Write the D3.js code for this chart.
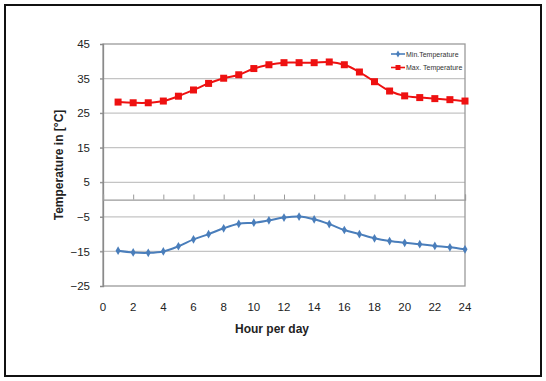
<!DOCTYPE html>
<html>
<head>
<meta charset="utf-8">
<script src="https://cdn.jsdelivr.net/npm/d3@7/dist/d3.min.js"></script>
<style>
  html, body { margin: 0; padding: 0; background: #fff; }
  svg { display: block; }
</style>
</head>
<body>
<svg id="chart" width="546" height="381"></svg>
<script>
// Hourly temperatures over one day
const hours = [1,2,3,4,5,6,7,8,9,10,11,12,13,14,15,16,17,18,19,20,21,22,23,24];
const maxTemp = [28.2,28.0,28.0,28.5,29.9,31.7,33.6,35.1,36.1,37.9,39.0,39.6,39.6,39.6,39.8,39.0,36.9,34.1,31.4,30.0,29.5,29.2,28.9,28.5];
const minTemp = [-14.8,-15.3,-15.4,-15.0,-13.5,-11.5,-10.0,-8.3,-7.0,-6.7,-6.0,-5.2,-4.9,-5.7,-7.1,-8.8,-10.0,-11.2,-12.0,-12.5,-12.9,-13.4,-13.8,-14.4];
const yTicks = [45,35,25,15,5,-5,-15,-25];
const xTicks = [0,2,4,6,8,10,12,14,16,18,20,22,24];
const seriesNames = ["Min.Temperature", "Max. Temperature"];

const svg = d3.select("#chart");
const W = 546, H = 381;
const plot = { left: 103, right: 465, top: 44, bottom: 286 };

// outer frame
svg.append("rect")
  .attr("x", 5).attr("y", 5).attr("width", W - 10).attr("height", H - 10)
  .attr("fill", "none").attr("stroke", "#111").attr("stroke-width", 2);

const x = d3.scaleLinear().domain([0, 24]).range([plot.left, plot.right]);
const y = d3.scaleLinear().domain([-25, 45]).range([plot.bottom, plot.top]);

const font = "'Liberation Sans', Arial, sans-serif";

// horizontal gridlines
svg.append("g").selectAll("line")
  .data(yTicks.filter(v => v !== 45 && v !== -25))
  .join("line")
  .attr("x1", plot.left - 3).attr("x2", plot.right)
  .attr("y1", d => y(d)).attr("y2", d => y(d))
  .attr("stroke", "#c4c4c4").attr("stroke-width", 1.3);

// plot border
svg.append("rect")
  .attr("x", plot.left).attr("y", plot.top)
  .attr("width", plot.right - plot.left).attr("height", plot.bottom - plot.top)
  .attr("fill", "none").attr("stroke", "#9a9a9a").attr("stroke-width", 1.3);

// y axis
const yAxis = d3.axisLeft(y).tickValues(yTicks).tickSize(3).tickPadding(10);
const gy = svg.append("g").attr("transform", `translate(${plot.left},0)`).call(yAxis);
gy.select(".domain").attr("stroke", "#8a8a8a").attr("stroke-width", 1.3);
gy.selectAll(".tick line").attr("stroke", "#8a8a8a");
gy.selectAll("text").attr("font-family", font).attr("font-size", 11.5).attr("fill", "#222");

// x axis drawn along the zero line, labels placed below the plot
const xAxis = d3.axisTop(x).tickValues(xTicks).tickSize(5).tickFormat("");
const gx = svg.append("g").attr("transform", `translate(0,${y(0)})`).call(xAxis);
gx.select(".domain").attr("stroke", "#9a9a9a").attr("stroke-width", 1.3);
gx.selectAll(".tick line").attr("stroke", "#9a9a9a");

svg.append("g").selectAll("text")
  .data(xTicks)
  .join("text")
  .attr("x", d => x(d)).attr("y", 311)
  .attr("text-anchor", "middle")
  .attr("font-family", font).attr("font-size", 11.5).attr("fill", "#222")
  .text(d => d);

// axis titles
svg.append("text")
  .attr("transform", `translate(63,165) rotate(-90)`)
  .attr("text-anchor", "middle")
  .attr("font-family", font).attr("font-size", 12).attr("font-weight", "bold").attr("fill", "#222")
  .text("Temperature in [°C]");

svg.append("text")
  .attr("x", 272).attr("y", 333)
  .attr("text-anchor", "middle")
  .attr("font-family", font).attr("font-size", 12).attr("font-weight", "bold").attr("fill", "#222")
  .text("Hour per day");

const line = d3.line().curve(d3.curveCatmullRom.alpha(0.5)).x(d => x(d[0])).y(d => y(d[1]));

const blue = "#4a7ebb", red = "#ee1111";
const minData = hours.map((h, i) => [h, minTemp[i]]);
const maxData = hours.map((h, i) => [h, maxTemp[i]]);

// min temperature series
svg.append("path").datum(minData).attr("d", line)
  .attr("fill", "none").attr("stroke", blue).attr("stroke-width", 2);
const diamond = d3.symbol().type(d3.symbolDiamond).size(22);
svg.append("g").selectAll("path").data(minData).join("path")
  .attr("transform", d => `translate(${x(d[0])},${y(d[1])})`)
  .attr("d", diamond).attr("fill", blue);

// max temperature series
svg.append("path").datum(maxData).attr("d", line)
  .attr("fill", "none").attr("stroke", red).attr("stroke-width", 2);
svg.append("g").selectAll("rect").data(maxData).join("rect")
  .attr("x", d => x(d[0]) - 3.5).attr("y", d => y(d[1]) - 3.5)
  .attr("width", 7).attr("height", 7).attr("fill", red);

// legend
const legend = svg.append("g").attr("transform", "translate(391,54)");
[blue, red].forEach((c, i) => {
  const g = legend.append("g").attr("transform", `translate(0,${i * 13.5})`);
  g.append("line").attr("x1", 0).attr("x2", 14).attr("stroke", c).attr("stroke-width", 1.6);
  if (i === 0) {
    g.append("path").attr("transform", "translate(7,0)")
      .attr("d", d3.symbol().type(d3.symbolDiamond).size(14)).attr("fill", c);
  } else {
    g.append("rect").attr("x", 4.5).attr("y", -2.5).attr("width", 5).attr("height", 5).attr("fill", c);
  }
  g.append("text").attr("x", 15).attr("y", 2.5)
    .attr("font-family", font).attr("font-size", 7).attr("fill", "#333")
    .text(seriesNames[i]);
});
</script>
</body>
</html>
